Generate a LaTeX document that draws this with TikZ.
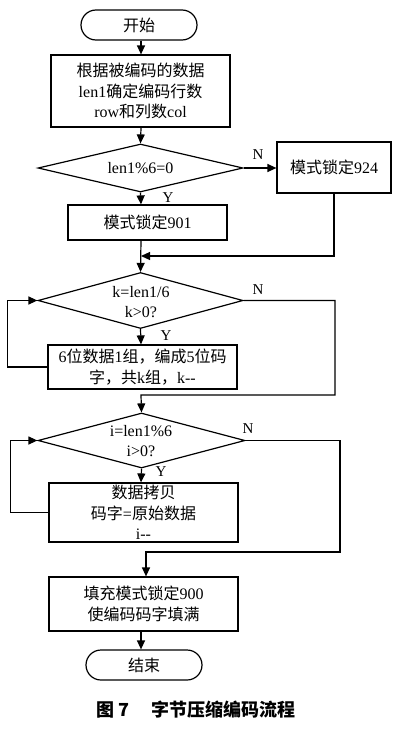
\documentclass[tikz,border=0pt]{standalone}
\usepackage{fontspec}
\setmainfont{Liberation Serif}
\newfontfamily\cjk{Noto Sans CJK SC}
\usetikzlibrary{shapes.geometric,arrows.meta}
\tikzset{
  box/.style={draw, line width=1.2pt, inner sep=0pt, align=center},
  term/.style={draw, line width=1.2pt, rounded corners=15pt, inner sep=0pt, minimum width=116pt, minimum height=30pt},
  dia/.style={draw, diamond, line width=1.2pt, inner sep=0pt},
  conn/.style={line width=1.2pt},
  arr/.style={conn, -{Triangle[length=9pt,width=8pt]}},
  yn/.style={inner sep=0pt, font=\fontsize{15}{16}\selectfont}
}
\begin{document}
\begin{tikzpicture}[x=1pt,y=-1pt, font=\fontsize{16}{20.5}\selectfont]
\useasboundingbox[fill=white] (0,0) rectangle (403,731);
\coordinate (mx) at (141,0);
\node[term] (start) at (139,25) {\cjk 开始};
\node[box, minimum width=179pt, minimum height=72pt] (b1) at (140.5,91)
  {{\cjk 根据被编码的数据}\\len1{\cjk 确定编码行数}\\row{\cjk 和列数}col};
\node[dia, minimum width=205pt, minimum height=48pt] (d1) at (140.5,168) {};
\node at (d1.center) {len1\%6=0};
\node[box, minimum width=114pt, minimum height=51pt] (b924) at (334,167.5) {{\cjk 模式锁定}924};
\node[box, minimum width=159pt, minimum height=35pt] (b901) at (147.5,222.5) {{\cjk 模式锁定}901};
\node[dia, minimum width=205pt, minimum height=56pt] (d2) at (140.5,300.5) {};
\node[align=center] at (141,302) {k=len1/6\\k\textgreater0?};
\node[box, minimum width=189pt, minimum height=44pt] (b2) at (142.5,367)
  {6{\cjk 位数据}1{\cjk 组，编成}5{\cjk 位码}\\{\cjk 字，共}k{\cjk 组，}k-{}-};
\node[dia, minimum width=207pt, minimum height=55pt] (d3) at (141.5,440.5) {};
\node[align=center] at (141,441) {i=len1\%6\\i\textgreater0?};
\node[box, minimum width=189pt, minimum height=59pt] (b3) at (143.5,512.5)
  {{\cjk 数据拷贝}\\{\cjk 码字}={\cjk 原始数据}\\i-{}-};
\node[box, minimum width=189pt, minimum height=54pt] (b4) at (143.5,604)
  {{\cjk 填充模式锁定}900\\{\cjk 使编码码字填满}};
\node[term] (end) at (144,665) {\cjk 结束};
\node[font=\cjk\bfseries\fontsize{18}{20}\selectfont] (cap) at (196,710) {图 7\hspace{1.2em}字节压缩编码流程};
% connectors
\draw[arr] (start.south -| mx) -- (b1.north -| mx);
\draw[arr] (b1.south -| mx) -- (d1.north);
\draw[arr] (d1.east) -- (b924.west |- d1.east);
\node[yn] at (258,155) {N};
\draw[arr] (d1.south) -- (b901.north -| mx);
\node[yn] at (168,198) {Y};
\coordinate (j1) at (141,256);
\draw[arr] (b924.south) |- (j1);
\draw[arr] (b901.south -| mx) -- (d2.north);
\draw[arr] (d2.south) -- (b2.north -| mx);
\node[yn] at (166,336) {Y};
\draw[arr] (b2.west) -- ++(-40,0) |- (d2.west);
\coordinate (r1) at (335,395);
\draw[arr] (d2.east) -| (r1) -- (r1 -| mx) -- (d3.north);
\node[yn] at (258,290) {N};
\draw[arr] (d3.south) -- (b3.north -| mx);
\node[yn] at (161,472) {Y};
\draw[arr] (b3.west) -- ++(-38,0) |- (d3.west);
\coordinate (r2) at (340,552);
\coordinate (mx2) at (146,0);
\draw[arr] (d3.east) -| (r2) -- (r2 -| mx2) -- (b4.north -| mx2);
\node[yn] at (248,429) {N};
\draw[arr] (b4.south -| mx) -- (end.north -| mx);
\end{tikzpicture}
\end{document}
